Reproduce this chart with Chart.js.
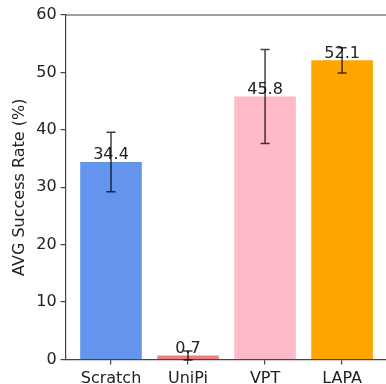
<!DOCTYPE html>
<html>
<head>
<meta charset="utf-8">
<script src="https://cdn.jsdelivr.net/npm/chart.js@4.4.1/dist/chart.umd.min.js"></script>
<style>
  html, body { margin: 0; padding: 0; background: #fff; overflow: hidden; }
  canvas { display: block; }
</style>
</head>
<body>
<canvas id="barChart" width="386" height="384"></canvas>
<script>
// data
var categories = ['Scratch', 'UniPi', 'VPT', 'LAPA'];
var successRate = [34.4, 0.7, 45.8, 52.1];
var errors = [5.2, 0.8, 8.2, 2.2];
var barColors = ['#6495ED', '#EB7F7F', '#FFBACA', '#FFA500'];
var yTicks = [0, 10, 20, 30, 40, 50, 60];

var fontFamily = '"DejaVu Sans", sans-serif';

// error bars + value labels on top of bars
var barExtras = {
    id: 'barExtras',
    afterDatasetsDraw: function(chart) {
        var ctx = chart.ctx;
        var yScale = chart.scales.y;
        var meta = chart.getDatasetMeta(0);
        ctx.save();
        meta.data.forEach(function(bar, i) {
            var v = successRate[i];
            ctx.fillStyle = '#222';
            ctx.font = '16px ' + fontFamily;
            ctx.textAlign = 'center';
            ctx.textBaseline = 'bottom';
            ctx.fillText(v.toFixed(1), bar.x, bar.y + 1);

            var top = yScale.getPixelForValue(v + errors[i]);
            var bottom = yScale.getPixelForValue(v - errors[i]);
            ctx.strokeStyle = 'rgba(0,0,0,0.75)';
            ctx.lineWidth = 1.5;
            ctx.beginPath();
            ctx.moveTo(bar.x, top);
            ctx.lineTo(bar.x, bottom);
            ctx.moveTo(bar.x - 4.5, top);
            ctx.lineTo(bar.x + 4.5, top);
            ctx.moveTo(bar.x - 4.5, bottom);
            ctx.lineTo(bar.x + 4.5, bottom);
            ctx.stroke();
        });
        // top spine (right spine falls outside the picture)
        var a = chart.chartArea;
        ctx.strokeStyle = '#444';
        ctx.lineWidth = 1.2;
        ctx.beginPath();
        ctx.moveTo(a.left, a.top);
        ctx.lineTo(a.right, a.top);
        ctx.stroke();
        ctx.restore();
    }
};

var ctx = document.getElementById('barChart').getContext('2d');
var barChart = new Chart(ctx, {
    type: 'bar',
    data: {
        datasets: [{
            data: successRate.map(function(v, i) { return { x: i, y: v }; }),
            backgroundColor: barColors,
            borderWidth: 0,
            categoryPercentage: 0.8,
            barPercentage: 1.0
        }]
    },
    options: {
        responsive: false,
        animation: false,
        layout: { padding: { top: 15, right: 0, left: 10, bottom: 0 } },
        plugins: {
            legend: { display: false },
            tooltip: { enabled: false }
        },
        scales: {
            x: {
                type: 'linear',
                offset: false,
                min: -0.59,
                max: 3.57,
                afterBuildTicks: function(axis) {
                    axis.ticks = categories.map(function(c, i) { return { value: i }; });
                },
                afterFit: function(axis) {
                    axis.height = 24.5;
                },
                ticks: {
                    callback: function(v) { return categories[v]; },
                    color: '#222',
                    font: { family: fontFamily, size: 16, lineHeight: 1.0 },
                    padding: 6,
                    maxRotation: 0
                },
                grid: { display: true, offset: false, drawOnChartArea: false, tickLength: 5, color: '#444', lineWidth: 1.2 },
                border: { display: true, color: '#444', width: 1.2 }
            },
            y: {
                min: 0,
                max: 60,
                afterBuildTicks: function(axis) {
                    axis.ticks = yTicks.map(function(v) { return { value: v }; });
                },
                ticks: {
                    color: '#222',
                    font: { family: fontFamily, size: 16 },
                    padding: 4
                },
                grid: { display: true, drawOnChartArea: false, tickLength: 5, color: '#444', lineWidth: 1.2 },
                border: { display: true, color: '#444', width: 1.2 },
                title: {
                    display: true,
                    text: 'AVG Success Rate (%)',
                    color: '#222',
                    font: { family: fontFamily, size: 16 },
                    padding: { top: 0, bottom: 3 }
                }
            }
        }
    },
    plugins: [barExtras]
});
</script>
</body>
</html>
